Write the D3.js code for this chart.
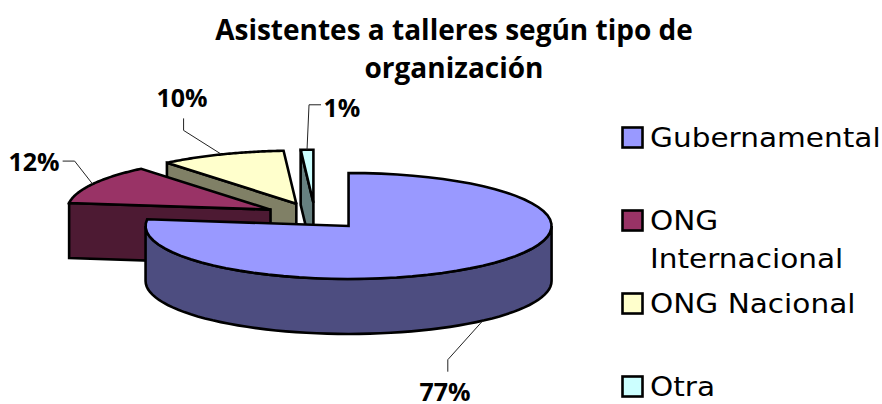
<!DOCTYPE html>
<html>
<head>
<meta charset="utf-8">
<script src="https://cdn.jsdelivr.net/npm/d3@7"></script>
<style>
  html, body { margin: 0; padding: 0; background: #fff; }
  svg { display: block; }
  text { fill: #000; }
</style>
</head>
<body>
<svg id="chart"></svg>
<script>
const categories = ["Gubernamental", "ONG Internacional", "ONG Nacional", "Otra"];
const values = [77, 12, 10, 1];
const topColors = ["#9999ff", "#993366", "#ffffcc", "#ccffff"];
const sideColors = ["#4d4d80", "#4d1a33", "#808066", "#668080"];
const legendLines = [["Gubernamental"], ["ONG", "Internacional"], ["ONG Nacional"], ["Otra"]];
const titleLines = ["Asistentes a talleres según tipo de", "organización"];

const width = 882;
const height = 404;
const cx = 315;
const cy = 216;
const rx = 203;
const ry = 53;
const depth = 55;
const explode = 0.25;
const boldFont = "'Open Sans', sans-serif";
const bodyFont = "'DejaVu Sans', sans-serif";

// unit circle -> flattened pie, 3D look is only the squash plus an extrusion
const xScale = d3.scaleLinear().domain([-1, 1]).range([cx - rx, cx + rx]);
const yScale = d3.scaleLinear().domain([-1, 1]).range([cy - ry, cy + ry]);

const svg = d3.select("#chart").attr("width", width).attr("height", height);

const slices = d3.pie().sort(null).value(d => d)(values).map((s, i) => {
  const mid = (s.startAngle + s.endAngle) / 2;
  return {
    ...s,
    i,
    mid,
    ax: xScale(Math.sin(mid) * explode),
    ay: yScale(-Math.cos(mid) * explode)
  };
});

const rim = (s, a, dy = 0) => [
  s.ax + Math.sin(a) * rx,
  s.ay - Math.cos(a) * ry + dy
];

// outline of an elliptical arc, sampled from the slice angles
const arcPoints = (s, a0, a1, dy = 0) =>
  d3.range(0, 61).map(k => rim(s, a0 + ((a1 - a0) * k) / 60, dy));

const line = d3.line();
const closed = pts => line(pts) + "Z";
const drawOrder = [3, 2, 1, 0];
const pieG = svg.append("g")
  .attr("stroke", "#000")
  .attr("stroke-width", 2.6)
  .attr("stroke-linejoin", "miter")
  .attr("stroke-miterlimit", 2);

drawOrder.forEach(i => {
  const s = slices[i];
  const apex = [s.ax, s.ay];
  const front0 = Math.max(s.startAngle, Math.PI / 2);
  const front1 = Math.min(s.endAngle, (3 * Math.PI) / 2);

  if (front1 > front0) {
    // outer wall, only the part that faces us
    pieG.append("path")
      .attr("fill", sideColors[i])
      .attr("d", closed([
        ...arcPoints(s, front0, front1),
        ...arcPoints(s, front0, front1, depth).reverse()
      ]));
  } else {
    // cut face on the start angle
    const o = rim(s, s.startAngle);
    pieG.append("path")
      .attr("fill", sideColors[i])
      .attr("d", closed([
        o,
        apex,
        [apex[0], apex[1] + depth],
        [o[0], o[1] + depth]
      ]));
  }

  pieG.append("path")
    .attr("fill", topColors[i])
    .attr("d", closed([apex, ...arcPoints(s, s.startAngle, s.endAngle)]));
});

// leader lines go from the rim at mid angle, elbows are relative to that
const leaders = [
  { dy: depth, elbow: [-35, 39], end: [-35, 51], lx: 445, ly: 401, anchor: "middle" },
  { dy: 0, elbow: [-18, -23], end: [-30, -23], lx: 34, ly: 171, anchor: "middle" },
  { dy: 0, elbow: [-38, -24], end: [-38, -36], lx: 182, ly: 107, anchor: "middle" },
  { dy: 0, elbow: [2, -45], end: [14, -45], lx: 342, ly: 117, anchor: "middle" }
];

slices.forEach((s, i) => {
  const l = leaders[i];
  const p = rim(s, s.mid, l.dy);
  svg.append("path")
    .attr("fill", "none")
    .attr("stroke", "#222")
    .attr("stroke-width", 1)
    .attr("d", line([
      p,
      [p[0] + l.elbow[0], p[1] + l.elbow[1]],
      [p[0] + l.end[0], p[1] + l.end[1]]
    ]));
  svg.append("text")
    .attr("x", l.lx)
    .attr("y", l.ly)
    .attr("text-anchor", l.anchor)
    .attr("font-family", boldFont)
    .attr("font-weight", "bold")
    .attr("font-size", 25)
    .text(values[i] + "%");
});

svg.append("g")
  .selectAll("text")
  .data(titleLines)
  .join("text")
  .attr("x", 454)
  .attr("y", (d, i) => 40 + i * 38)
  .attr("text-anchor", "middle")
  .attr("font-family", boldFont)
  .attr("font-weight", "bold")
  .attr("font-size", 28)
  .text(d => d);

const legendY = d3.scalePoint().domain(categories).range([127, 376]);
const legend = svg.append("g")
  .selectAll("g")
  .data(categories)
  .join("g")
  .attr("transform", d => `translate(622,${legendY(d)})`);

legend.append("rect")
  .attr("x", 0.5)
  .attr("y", 0.5)
  .attr("width", 20)
  .attr("height", 20)
  .attr("fill", (d, i) => topColors[i])
  .attr("stroke", "#000")
  .attr("stroke-width", 2.6);

// the original legend type is wide, so stretch it a bit horizontally
legend.each(function(d, i) {
  d3.select(this)
    .selectAll("text")
    .data(legendLines[i])
    .join("text")
    .attr("transform", (t, k) => `translate(28,${19.5 + k * 38}) scale(1.095,1)`)
    .attr("font-family", bodyFont)
    .attr("font-size", 27)
    .text(t => t);
});
</script>
</body>
</html>
